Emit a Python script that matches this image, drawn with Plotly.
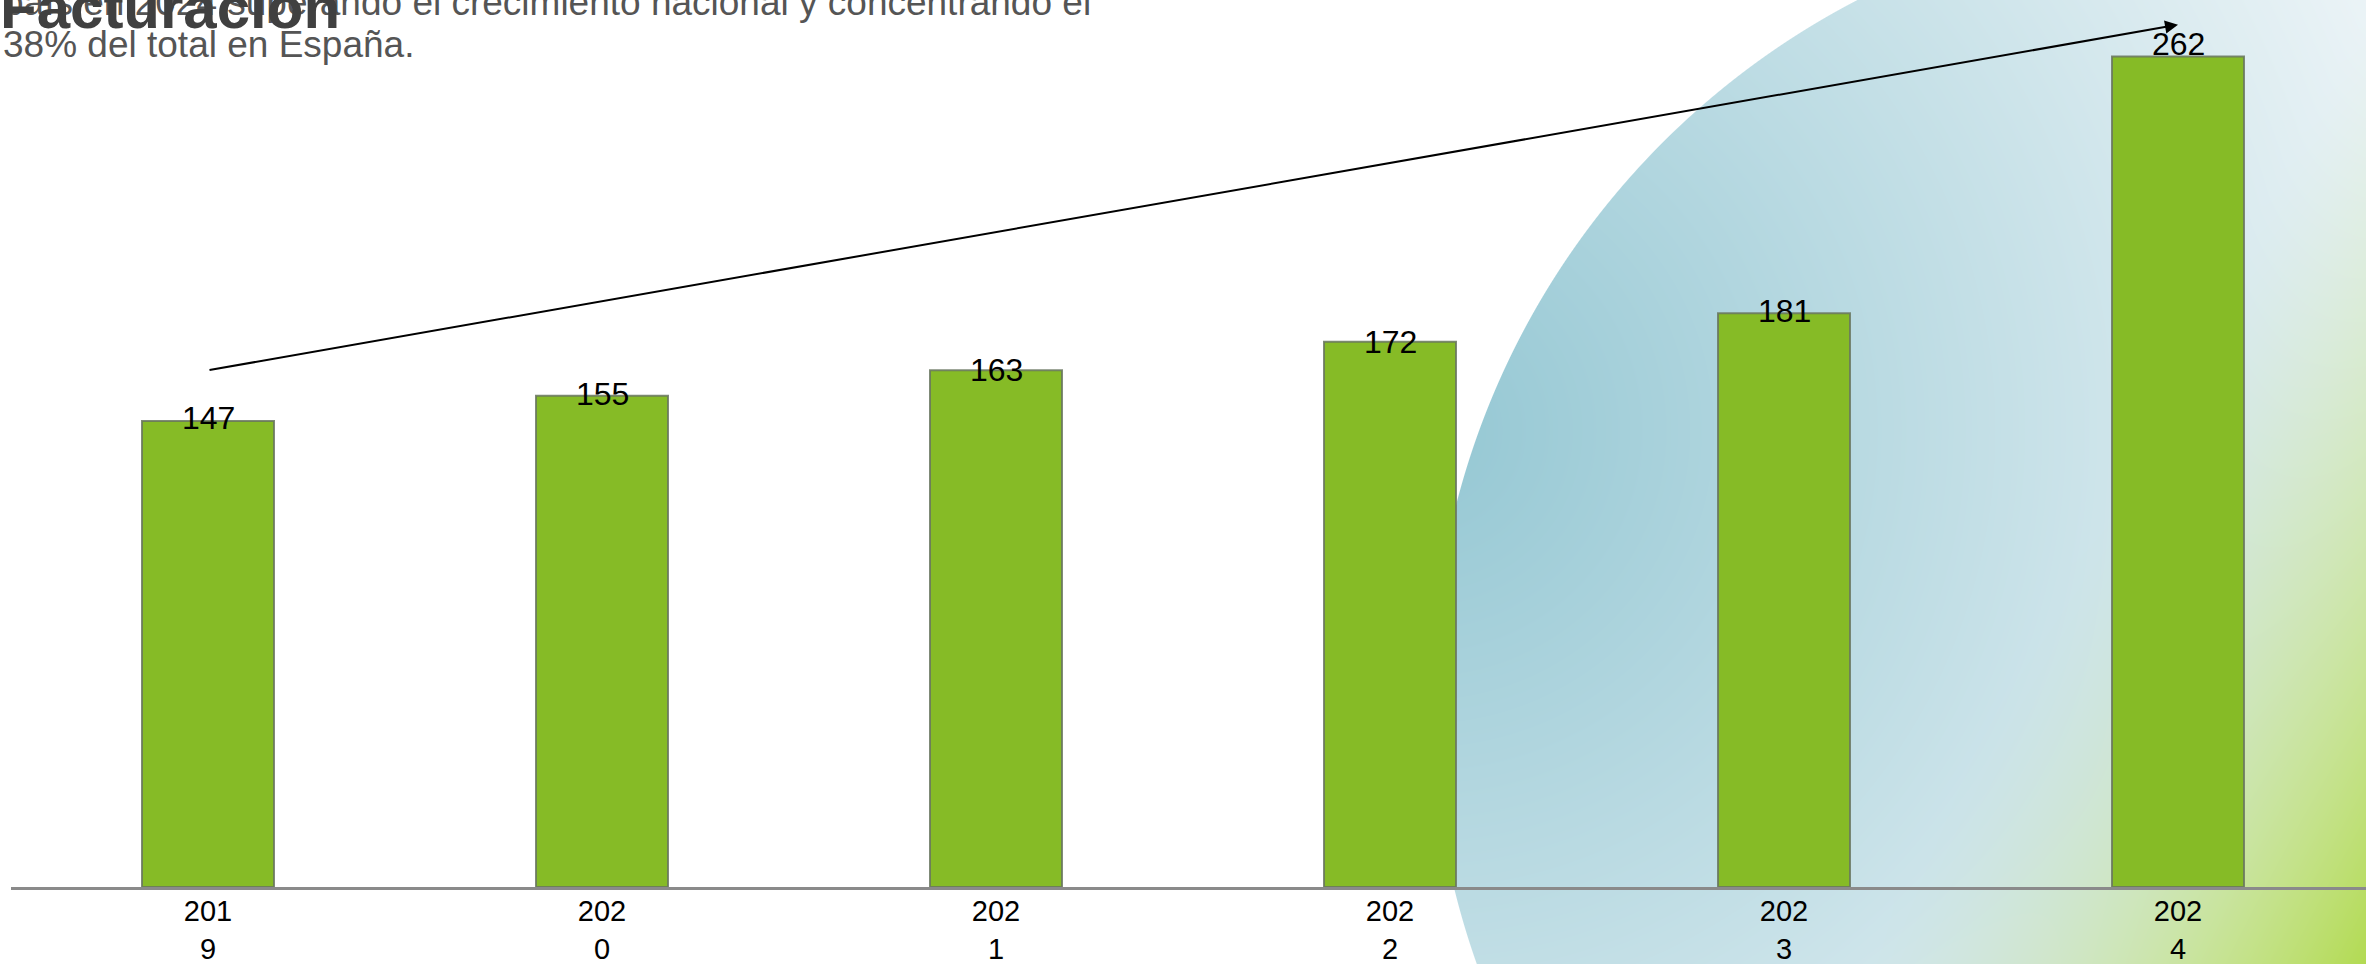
import base64
import struct
import zlib

import numpy as np
import plotly.graph_objects as go

# ---- data -------------------------------------------------------------
years = ["2019", "2020", "2021", "2022", "2023", "2024"]
year_ticks = ["201<br>9", "202<br>0", "202<br>1", "202<br>2", "202<br>3", "202<br>4"]
facturacion = [147, 155, 163, 172, 181, 262]

title_text = "Facturación"
subtitle_lines = ["país en 2024 superando el crecimiento nacional y concentrando el",
                  "38% del total en España."]

# ---- geometry (pixels) -------------------------------------------------
W, H = 2366, 964
ML, MB = 11, 77
PW, PH = W - ML, H - MB
PX_PER_UNIT = 3.17
Y_MAX = PH / PX_PER_UNIT
CAT_PX = 394.0
X_MAX = -0.5 + PW / CAT_PX

FONT = "Liberation Sans, Arial, sans-serif"


def px_to_paper_x(px):
    return (px - ML) / PW


def px_to_paper_y(py):
    return (PH - py) / PH


# ---- background: teal disc with a soft gradient + green corner glow ----
def background_png():
    yy, xx = np.mgrid[0:H, 0:W].astype(np.float64)
    img = np.ones((H, W, 3)) * 255.0

    cx, cy, R = 2220.0, 700.0, 789.0
    d = np.sqrt((xx - cx) ** 2 + (yy - cy) ** 2)
    cover = np.clip(R - d + 0.5, 0, 1)[..., None]

    r = np.sqrt((xx - 1420.0) ** 2 + (yy - 430.0) ** 2)
    t = np.clip(r / 1150.0, 0, 1)[..., None]
    teal = np.array([148.0, 199.0, 211.0])
    pale = np.array([244.0, 248.0, 250.0])
    disc = teal * (1 - t) + pale * t
    img = img * (1 - cover) + disc * cover

    s = (xx - W) * 0.88 + (yy - H) * 0.47
    g = (np.clip(1 + s / 450.0, 0, 1) ** 1.5)[..., None]
    green = np.array([178.0, 218.0, 82.0])
    img = img * (1 - g) + green * g

    px = np.clip(np.round(img), 0, 255).astype(np.uint8)
    # PNG "Up" filter for compact gradients
    up = px.astype(np.int16)
    diff = np.empty_like(up)
    diff[0] = up[0]
    diff[1:] = (up[1:] - up[:-1]) % 256
    rows = diff.astype(np.uint8).reshape(H, W * 3)
    raw = b"".join(b"\x02" + rows[i].tobytes() for i in range(H))

    def chunk(tag, data):
        c = struct.pack(">I", len(data)) + tag + data
        return c + struct.pack(">I", zlib.crc32(tag + data) & 0xFFFFFFFF)

    png = b"\x89PNG\r\n\x1a\n"
    png += chunk(b"IHDR", struct.pack(">IIBBBBB", W, H, 8, 2, 0, 0, 0))
    png += chunk(b"IDAT", zlib.compress(raw, 9))
    png += chunk(b"IEND", b"")
    return "data:image/png;base64," + base64.b64encode(png).decode()


fig = go.Figure()

fig.add_trace(go.Bar(
    x=list(range(len(years))),
    y=facturacion,
    marker=dict(color="#86BB26",
                line=dict(color="rgba(105,118,95,0.85)", width=2)),
    hoverinfo="skip",
))

# value labels sitting on the bar tops
label_shift = [3, 2, 0, 0, 2, 12]
for i, (v, sh) in enumerate(zip(facturacion, label_shift)):
    fig.add_annotation(x=i, y=v, xref="x", yref="y", text=str(v),
                       showarrow=False, yanchor="middle", yshift=sh,
                       font=dict(family=FONT, size=32, color="#000000"))

# growth arrow from the first to the last year
arrow_tail = 163.0
arrow_head = 272.0
fig.add_annotation(x=len(years) - 1, y=arrow_head, ax=0, ay=arrow_tail,
                   xref="x", yref="y", axref="x", ayref="y",
                   text="", showarrow=True, arrowhead=2, arrowsize=1.3,
                   arrowwidth=2, arrowcolor="#000000", standoff=0,
                   startstandoff=0)

# heading block in the upper-left corner
sub_font = dict(family=FONT, size=37, color="#555555")
fig.add_annotation(x=px_to_paper_x(1), y=px_to_paper_y(3), xref="paper",
                   yref="paper", text=subtitle_lines[0], showarrow=False,
                   xanchor="left", yanchor="middle", align="left",
                   font=sub_font)
fig.add_annotation(x=px_to_paper_x(1), y=px_to_paper_y(45), xref="paper",
                   yref="paper", text=subtitle_lines[1], showarrow=False,
                   xanchor="left", yanchor="middle", align="left",
                   font=sub_font)
fig.add_annotation(x=px_to_paper_x(-2), y=px_to_paper_y(-28), xref="paper",
                   yref="paper", text="<b>" + title_text + "</b>",
                   showarrow=False, xanchor="left", yanchor="top",
                   font=dict(family=FONT, size=60, color="#404040"))

fig.add_layout_image(dict(
    source=background_png(), xref="paper", yref="paper",
    x=px_to_paper_x(0), y=px_to_paper_y(0),
    sizex=W / PW, sizey=H / PH,
    xanchor="left", yanchor="top", sizing="stretch", layer="below",
))

fig.update_layout(
    width=W, height=H,
    margin=dict(l=ML, r=0, t=0, b=MB, pad=0),
    paper_bgcolor="#FFFFFF",
    plot_bgcolor="rgba(0,0,0,0)",
    showlegend=False,
    bargap=1 - 132 / CAT_PX,
    xaxis=dict(range=[-0.5, X_MAX], tickmode="array",
               tickvals=list(range(len(years))), ticktext=year_ticks,
               showgrid=False, zeroline=False, automargin=False,
               showline=True, linecolor="#8A8A8A", linewidth=3, ticks="",
               ticklabelstandoff=-4,
               tickfont=dict(family=FONT, size=29, color="#000000"),
               fixedrange=True),
    yaxis=dict(range=[0, Y_MAX], visible=False, fixedrange=True,
               automargin=False),
)

fig.write_html("out.html", config={"displayModeBar": False})
